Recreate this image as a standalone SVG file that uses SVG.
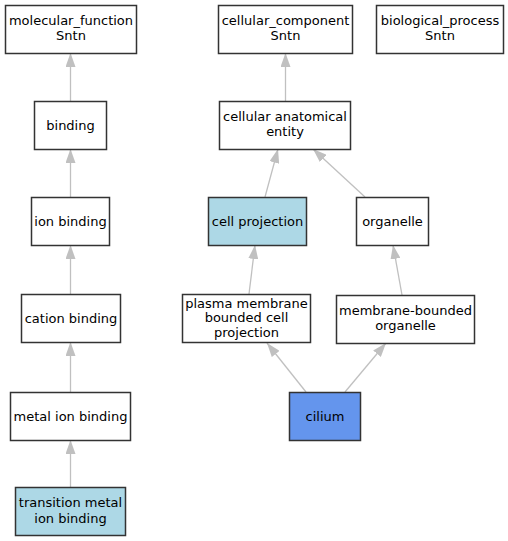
<svg xmlns="http://www.w3.org/2000/svg" width="508" height="541" viewBox="0 0 508 541">
<style>
.n rect{stroke:#333;stroke-width:1.5;fill:#fff}
.n.hl rect{fill:#add8e6}
.n.main rect{fill:#6495ed}
.n text{font-family:"DejaVu Sans",sans-serif;font-size:13px;text-anchor:middle;fill:#000}
.e line{stroke:#c0c0c0;stroke-width:1.3;marker-end:url(#ah)}
</style>
<defs>
<marker id="ah" viewBox="0 0 14 10" refX="14" refY="5" markerWidth="14" markerHeight="10" markerUnits="userSpaceOnUse" orient="auto">
<path d="M0,0 L14,5 L0,10 z" fill="#c0c0c0"/>
</marker>
</defs>
<g id="edges" class="e">
<line x1="70.5" y1="101" x2="70.5" y2="53"/>
<line x1="70.5" y1="197" x2="70.5" y2="149"/>
<line x1="70.5" y1="294" x2="70.5" y2="245"/>
<line x1="70.5" y1="392" x2="70.5" y2="342"/>
<line x1="70.5" y1="487" x2="70.5" y2="440"/>
<line x1="285.5" y1="101" x2="285.5" y2="53"/>
<line x1="265" y1="197" x2="278" y2="149"/>
<line x1="365" y1="197" x2="313" y2="149"/>
<line x1="249" y1="294" x2="255" y2="245"/>
<line x1="402" y1="295" x2="393" y2="245"/>
<line x1="306" y1="392" x2="267" y2="343"/>
<line x1="345" y1="392" x2="386" y2="343"/>
</g>
<g id="molecular_function" class="n"><rect x="5.5" y="5.5" width="131" height="48"/><text x="71" y="25">molecular_function</text><text x="71" y="39.5">Sntn</text></g>
<g id="binding" class="n"><rect x="34.5" y="101.5" width="72" height="48"/><text x="70.5" y="130">binding</text></g>
<g id="ion_binding" class="n"><rect x="31.5" y="197.5" width="78" height="48"/><text x="70.5" y="226">ion binding</text></g>
<g id="cation_binding" class="n"><rect x="21.5" y="294.5" width="99" height="48"/><text x="71" y="323">cation binding</text></g>
<g id="metal_ion_binding" class="n"><rect x="10.5" y="392.5" width="120" height="48"/><text x="70.5" y="421">metal ion binding</text></g>
<g id="transition_metal_ion_binding" class="n hl"><rect x="15.5" y="487.5" width="110" height="48"/><text x="70.5" y="507">transition metal</text><text x="70.5" y="522.5">ion binding</text></g>
<g id="cellular_component" class="n"><rect x="218.5" y="5.5" width="134" height="48"/><text x="285.5" y="25">cellular_component</text><text x="285.5" y="39.5">Sntn</text></g>
<g id="biological_process" class="n"><rect x="376.5" y="5.5" width="127" height="48"/><text x="440" y="25">biological_process</text><text x="440" y="39.5">Sntn</text></g>
<g id="cellular_anatomical_entity" class="n"><rect x="219.5" y="101.5" width="131" height="48"/><text x="285" y="121">cellular anatomical</text><text x="285" y="135.5">entity</text></g>
<g id="cell_projection" class="n hl"><rect x="208.5" y="197.5" width="98" height="48"/><text x="257.5" y="226">cell projection</text></g>
<g id="organelle" class="n"><rect x="356.5" y="197.5" width="72" height="48"/><text x="392.5" y="226">organelle</text></g>
<g id="plasma_membrane_bounded_cell_projection" class="n"><rect x="182.5" y="294.5" width="128" height="48"/><text x="246.5" y="307.5">plasma membrane</text><text x="246.5" y="322">bounded cell</text><text x="246.5" y="336.5">projection</text></g>
<g id="membrane_bounded_organelle" class="n"><rect x="336.5" y="295.5" width="138" height="48"/><text x="405.5" y="315">membrane-bounded</text><text x="405.5" y="329.5">organelle</text></g>
<g id="cilium" class="n main"><rect x="289.5" y="392.5" width="71" height="48"/><text x="325" y="421">cilium</text></g>
</svg>
